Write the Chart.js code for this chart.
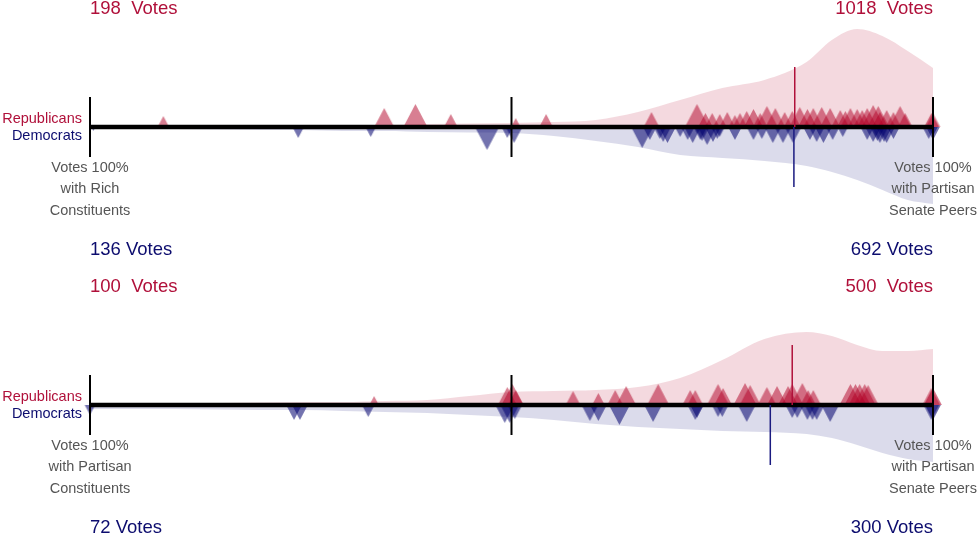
<!DOCTYPE html>
<html>
<head>
<meta charset="utf-8">
<script src="https://cdn.jsdelivr.net/npm/chart.js@4.4.0/dist/chart.umd.min.js"></script>
<style>
  body { margin: 0; background: #fff; width: 978px; height: 533px; overflow: hidden; position: relative; }
  .panel { position: absolute; left: 0; width: 978px; height: 278px; }
  #p1 { top: -11px; }
  #p2 { top: 267px; }
</style>
</head>
<body>
<div class="panel" id="p1"><canvas id="chart1" width="978" height="278"></canvas></div>
<div class="panel" id="p2"><canvas id="chart2" width="978" height="278"></canvas></div>
<script>
// x = % of votes cast with partisan senate peers (0 = with constituents)
let topRepX = [8.7, 34.9, 38.6, 42.8, 50.5, 54.1, 66.6, 72.0, 73.0, 73.8, 74.7, 75.6, 76.5, 77.1, 77.9, 78.7, 79.5, 80.3, 81.3, 82.4, 83.3, 84.2, 85.1, 85.8, 86.8, 87.8, 89.0, 89.6, 90.2, 91.0, 91.6, 92.2, 92.9, 93.5, 93.7, 94.5, 95.3, 96.1, 96.7, 99.8, 100];
let topRepWeight = [5.5, 9.5, 11.5, 6.5, 4.5, 6.5, 7.5, 11.5, 7, 7, 6.5, 7.5, 6, 7, 8, 9, 7, 10.5, 9.5, 7.5, 8, 10, 9, 9.5, 10, 9.5, 8.5, 8, 9.5, 9, 8.5, 9.5, 11, 10.5, 7.5, 8.5, 7.5, 10.5, 7, 7, 7];
let topDemX = [0.4, 24.7, 33.3, 47.1, 49.5, 50.3, 65.5, 66.4, 67.6, 68.0, 68.5, 70.0, 70.9, 71.5, 72.4, 72.6, 73.2, 73.9, 74.4, 74.7, 76.5, 78.7, 79.7, 81.0, 82.2, 83.4, 85.4, 86.2, 87.0, 88.1, 89.3, 92.2, 92.9, 93.4, 93.7, 94.2, 94.5, 95.3, 99.5, 100, 100];
let topDemWeight = [2, 5.5, 5, 11.5, 5.5, 8, 10.5, 6.5, 6, 7.5, 8, 5, 6.5, 8, 6.5, 7, 9, 7.5, 6, 5, 6.5, 6.5, 6, 8, 8, 8, 6.5, 7.5, 8, 6.5, 5, 6.5, 7.5, 7, 8, 7.5, 8, 6, 6, 6.5, 4.5];

let botRepX = [33.7, 49.5, 50.1, 50.5, 57.3, 60.3, 62.3, 63.6, 67.4, 71.2, 71.8, 74.5, 75.1, 77.7, 78.3, 80.3, 81.5, 82.8, 83.3, 84.5, 85.2, 85.8, 90.2, 90.8, 91.3, 91.9, 92.3, 99.8, 100];
let botRepWeight = [4.5, 9, 10.5, 7.5, 7, 6, 7.5, 9.5, 10.5, 7.5, 7.5, 10.5, 8.5, 11, 10, 9, 9.5, 9.5, 10.5, 11, 7.5, 7.5, 10.5, 10.5, 10.5, 10.5, 10, 8.5, 8.5];
let botDemX = [0, 24.2, 24.9, 33.0, 49.2, 49.8, 50.4, 59.3, 60.3, 62.8, 66.8, 71.8, 72.0, 74.5, 75.0, 77.9, 83.3, 83.9, 85.1, 85.7, 86.2, 87.8, 99.8, 100];
let botDemWeight = [5, 7.5, 7.5, 6, 9, 9, 7, 8, 8, 10, 8.5, 7.5, 6.5, 6, 6, 8.5, 6.5, 6.5, 7.5, 7.5, 7.5, 8.5, 7.5, 7.5];

// density curves
let densX = [0, 5, 10, 15, 20, 25, 30, 35, 40, 45, 50, 55, 60, 65, 70, 75, 80, 85, 88, 91, 94, 97, 100];
let topRepDensity = [0.01, 0.01, 0.01, 0.01, 0.01, 0.01, 0.015, 0.02, 0.03, 0.035, 0.04, 0.05, 0.07, 0.15, 0.27, 0.39, 0.47, 0.65, 0.87, 0.98, 0.91, 0.76, 0.59];
let topDemDensity = [0.015, 0.02, 0.02, 0.025, 0.03, 0.03, 0.04, 0.04, 0.05, 0.055, 0.06, 0.09, 0.14, 0.20, 0.28, 0.31, 0.34, 0.39, 0.45, 0.53, 0.63, 0.73, 0.77];
let botRepDensity = [0.02, 0.02, 0.02, 0.02, 0.025, 0.03, 0.03, 0.04, 0.05, 0.09, 0.13, 0.14, 0.15, 0.18, 0.27, 0.45, 0.66, 0.73, 0.69, 0.60, 0.54, 0.54, 0.56];
let botDemDensity = [0.04, 0.04, 0.04, 0.045, 0.05, 0.05, 0.06, 0.07, 0.08, 0.10, 0.12, 0.15, 0.19, 0.22, 0.24, 0.26, 0.27, 0.29, 0.33, 0.40, 0.48, 0.54, 0.57];

let repMean = [83.6, 83.3];
let demMean = [83.5, 80.7];
let tickX = [0, 50, 100];

let repVotes = [[198, 1018], [100, 500]];
let demVotes = [[136, 692], [72, 300]];
let leftLabels = [["Votes 100%", "with Rich", "Constituents"], ["Votes 100%", "with Partisan", "Constituents"]];
let rightLabels = [["Votes 100%", "with Partisan", "Senate Peers"], ["Votes 100%", "with Partisan", "Senate Peers"]];

const RED = '#b0103a';
const NAVY = '#0c0c6e';
const RED_TRI = 'rgba(178,0,38,0.5)';
const NAVY_TRI = 'rgba(0,0,110,0.55)';
const FONT = 'Arial, "Liberation Sans", sans-serif';
const TRI_PX = 2;

let triCache = {};
function triangle(h, color, up) {
    let key = h + color + up;
    if (triCache[key]) return triCache[key];
    let w = h * 1.05;
    let c = document.createElement('canvas');
    let half = Math.ceil(h) + 1;
    c.width = Math.ceil(w) + 2;
    c.height = half * 2;
    let g = c.getContext('2d');
    let cx = c.width / 2;
    g.fillStyle = color;
    g.beginPath();
    g.moveTo(cx - w / 2, half);
    g.lineTo(cx, up ? half - h : half + h);
    g.lineTo(cx + w / 2, half);
    g.closePath();
    g.fill();
    triCache[key] = c;
    return c;
}

function triDataset(xs, weights, color, up) {
    return {
        type: 'line',
        showLine: false,
        data: xs.map(x => ({x: x, y: 0})),
        pointStyle: weights.map(w => triangle(w * TRI_PX, color, up)),
        pointRadius: 4,
        pointHoverRadius: 4,
        clip: false,
        order: 2
    };
}

function densDataset(dens, color, sign) {
    return {
        type: 'line',
        data: densX.map((x, i) => ({x: x, y: sign * dens[i]})),
        fill: 'origin',
        backgroundColor: color,
        borderWidth: 0,
        pointRadius: 0,
        cubicInterpolationMode: 'monotone',
        order: 3
    };
}

function segment(x, y1, y2, color, width) {
    return {
        type: 'line',
        data: [{x: x, y: y1}, {x: x, y: y2}],
        borderColor: color,
        borderWidth: width,
        pointRadius: 0,
        clip: false,
        order: 0
    };
}

const textPlugin = {
    id: 'voteText',
    afterDraw(chart) {
        let i = chart.options.plugins.voteText.panel;
        let ctx = chart.ctx;
        let x0 = chart.scales.x.getPixelForValue(0);
        let x1 = chart.scales.x.getPixelForValue(100);
        let y0 = chart.scales.y.getPixelForValue(0);
        let area = chart.chartArea;
        ctx.save();
        ctx.textBaseline = 'alphabetic';

        ctx.font = '18.5px ' + FONT;
        ctx.fillStyle = RED;
        ctx.textAlign = 'left';
        ctx.fillText(repVotes[i][0] + '  Votes', x0, area.top - 13);
        ctx.textAlign = 'right';
        ctx.fillText(repVotes[i][1] + '  Votes', x1, area.top - 13);
        ctx.fillStyle = NAVY;
        ctx.textAlign = 'left';
        ctx.fillText(demVotes[i][0] + ' Votes', x0, area.bottom + 28);
        ctx.textAlign = 'right';
        ctx.fillText(demVotes[i][1] + ' Votes', x1, area.bottom + 28);

        ctx.font = '14.5px ' + FONT;
        ctx.textAlign = 'right';
        ctx.fillStyle = RED;
        ctx.fillText('Republicans', x0 - 8, y0 - 4);
        ctx.fillStyle = NAVY;
        ctx.fillText('Democrats', x0 - 8, y0 + 13);

        ctx.fillStyle = '#555';
        ctx.textAlign = 'center';
        let offs = [45, 66, 88];
        for (let k = 0; k < 3; k++) {
            ctx.fillText(leftLabels[i][k], x0, y0 + offs[k]);
            ctx.fillText(rightLabels[i][k], x1, y0 + offs[k]);
        }
        ctx.restore();
    }
};

function makeChart(id, panel, repX, repW, demX, demW, repDens, demDens) {
    let datasets = [
        densDataset(repDens, 'rgba(178,0,38,0.15)', 1),
        densDataset(demDens, 'rgba(0,0,110,0.14)', -1),
        triDataset(repX, repW, RED_TRI, true),
        triDataset(demX, demW, NAVY_TRI, false),
        {
            type: 'line',
            data: [{x: 0, y: 0}, {x: 100, y: 0}],
            borderColor: '#000',
            borderWidth: 4.5,
            pointRadius: 0,
            clip: false,
            order: 1
        }
    ];
    for (const t of tickX) {
        datasets.push(segment(t, -0.3, 0.3, '#000', 2));
    }
    datasets.push(segment(repMean[panel], 0, 0.6, RED, 1.5));
    datasets.push(segment(demMean[panel], 0, -0.6, '#1a1a80', 1.5));

    return new Chart(id, {
        type: 'line',
        data: { datasets: datasets },
        options: {
            responsive: false,
            animation: false,
            devicePixelRatio: 1,
            events: [],
            layout: { padding: { left: 90, right: 45, top: 38, bottom: 40 } },
            scales: {
                x: { type: 'linear', min: 0, max: 100, display: false },
                y: { type: 'linear', min: -1, max: 1, display: false }
            },
            plugins: {
                legend: { display: false },
                tooltip: { enabled: false },
                voteText: { panel: panel }
            }
        },
        plugins: [textPlugin]
    });
}

makeChart('chart1', 0, topRepX, topRepWeight, topDemX, topDemWeight, topRepDensity, topDemDensity);
makeChart('chart2', 1, botRepX, botRepWeight, botDemX, botDemWeight, botRepDensity, botDemDensity);
</script>
</body>
</html>
